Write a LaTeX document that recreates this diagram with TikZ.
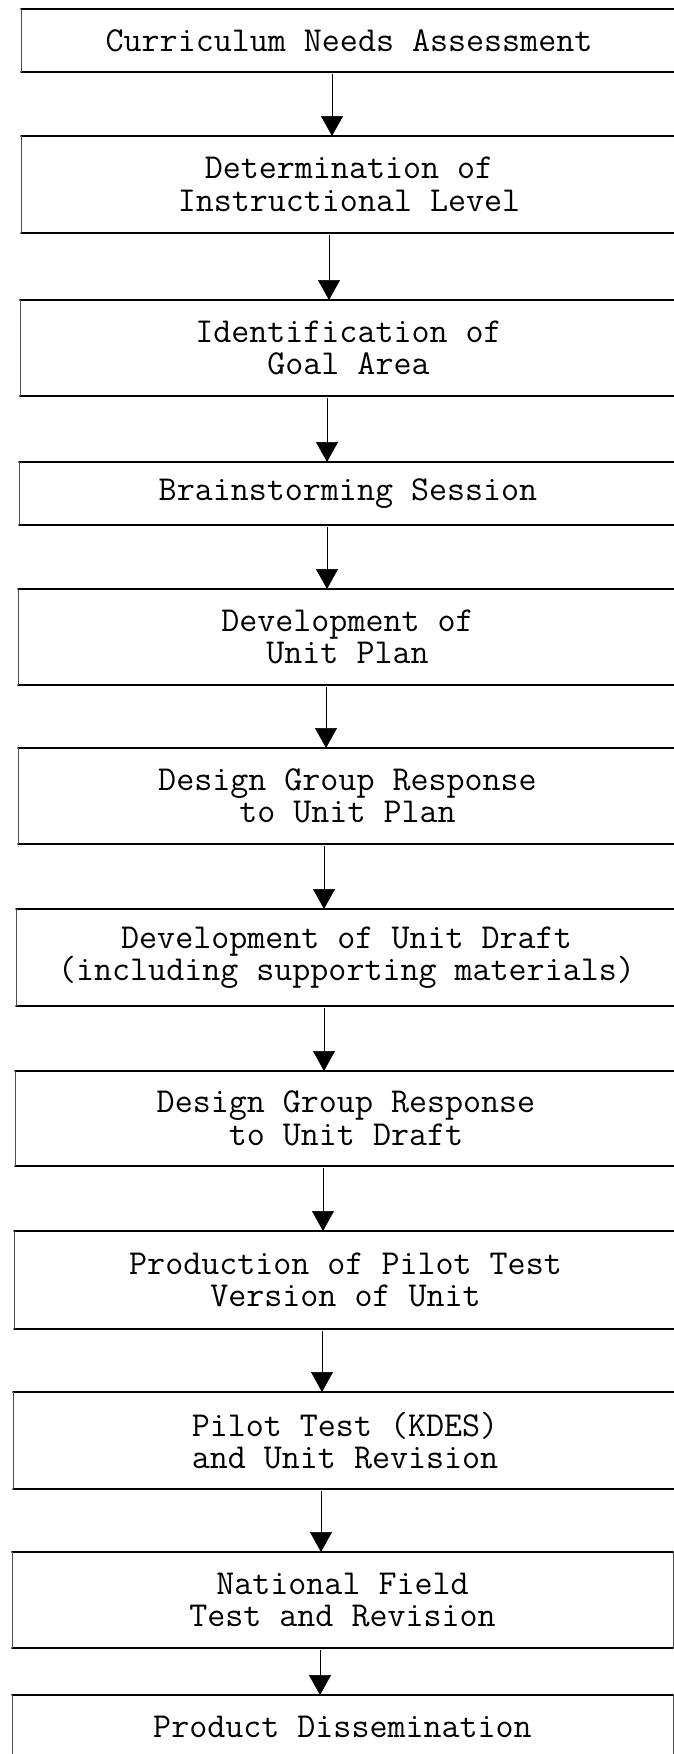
\documentclass[tikz,border=0pt]{standalone}
\usetikzlibrary{arrows.meta}
\tikzset{
  stepbox/.style={draw=none, inner sep=0pt, outer sep=0pt, align=center,
    font=\ttfamily\fontsize{35}{32.5}\selectfont},
  hline/.style={line width=1.6pt, line cap=round},
  vline/.style={line width=0.8pt, draw=black!70},
  flow/.style={line width=0.7pt, -{Triangle[width=22pt,length=20pt]}, shorten <=2pt},
}
\newcommand\mkbox[6]{%
  \node[stepbox, minimum width={#4pt-#2pt}, minimum height={#5pt-#3pt}]
    (#1) at ({(#2+#4)/2},{(#3+#5)/2}) {#6};
  \draw[hline] (#1.north west) -- (#1.north east);
  \draw[hline] (#1.south west) -- (#1.south east);
  \draw[vline] (#1.north west) -- (#1.south west);
  \draw[vline] (#1.north east) -- (#1.south east);
}
\begin{document}
\begin{tikzpicture}[x=1pt, y=-1pt]
\useasboundingbox (0,0) rectangle (674,1754);
\clip (0,0) rectangle (674,1754);
\fill[white] (0,0) rectangle (674,1754);

\mkbox{b1}{21}{9}{677}{72}{Curriculum Needs Assessment}
\mkbox{b2}{21}{136}{677}{233}{Determination of\\Instructional Level}
\mkbox{b3}{20}{300}{677}{396}{Identification of\\Goal Area}
\mkbox{b4}{19}{462}{677}{525}{Brainstorming Session}
\mkbox{b5}{18}{589}{677}{685}{Development of\\Unit Plan}
\mkbox{b6}{18}{748}{677}{844}{Design Group Response\\to Unit Plan}
\mkbox{b7}{16}{909}{677}{1006}{Development of Unit Draft\\(including supporting materials)}
\mkbox{b8}{15}{1071}{677}{1166}{Design Group Response\\to Unit Draft}
\mkbox{b9}{14}{1231}{677}{1329}{Production of Pilot Test\\Version of Unit}
\mkbox{b10}{13}{1392}{677}{1489}{Pilot Test (KDES)\\and Unit Revision}
\mkbox{b11}{12}{1552}{673}{1648}{National Field\\Test and Revision}
\mkbox{b12}{12}{1695}{673}{1759}{Product Dissemination}

\coordinate (a1) at (332,0);
\coordinate (a2) at (329,0);
\coordinate (a3) at (327,0);
\coordinate (a4) at (327,0);
\coordinate (a5) at (326,0);
\coordinate (a6) at (324,0);
\coordinate (a7) at (324,0);
\coordinate (a8) at (323,0);
\coordinate (a9) at (322,0);
\coordinate (a10) at (321,0);
\coordinate (a11) at (320,0);

\draw[flow] (b1.south -| a1) -- (b2.north -| a1);
\draw[flow] (b2.south -| a2) -- (b3.north -| a2);
\draw[flow] (b3.south -| a3) -- (b4.north -| a3);
\draw[flow] (b4.south -| a4) -- (b5.north -| a4);
\draw[flow] (b5.south -| a5) -- (b6.north -| a5);
\draw[flow] (b6.south -| a6) -- (b7.north -| a6);
\draw[flow] (b7.south -| a7) -- (b8.north -| a7);
\draw[flow] (b8.south -| a8) -- (b9.north -| a8);
\draw[flow] (b9.south -| a9) -- (b10.north -| a9);
\draw[flow] (b10.south -| a10) -- (b11.north -| a10);
\draw[flow] (b11.south -| a11) -- (b12.north -| a11);
\end{tikzpicture}
\end{document}
